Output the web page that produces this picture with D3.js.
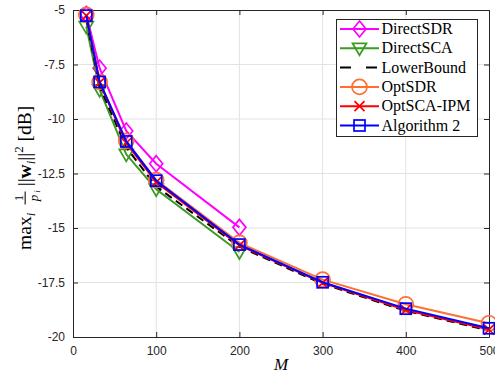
<!DOCTYPE html>
<html>
<head>
<meta charset="utf-8">
<script src="https://d3js.org/d3.v7.min.js"></script>
<style>
  body { margin: 0; background: #fff; }
  .tick text { font-family: "Liberation Sans", Arial, sans-serif; font-size: 12px; fill: #262626; }
  .serif { font-family: "Liberation Serif", "DejaVu Serif", serif; }
</style>
</head>
<body>
<svg id="chart"></svg>
<script>
// data
var M = [16, 32, 64, 100, 200, 300, 400, 500];
var directSDR   = [-5.2, -7.67, -10.55, -12.05, -14.97];
var directSCA   = [-5.76, -8.66, -11.62, -13.22, -16.1];
var lowerBound  = [-5.45, -8.5, -11.3, -13.1, -15.86, -17.56, -18.8, -19.7];
var optSDR      = [-5.22, -8.3, -11.0, -12.8, -15.68, -17.37, -18.5, -19.37];
var optSCAIPM   = [-5.26, -8.33, -11.1, -12.9, -15.8, -17.52, -18.76, -19.66];
var algorithm2  = [-5.26, -8.3, -11.03, -12.83, -15.76, -17.49, -18.7, -19.6];
var xTicks = [0, 100, 200, 300, 400, 500];
var yTicks = [-5, -7.5, -10, -12.5, -15, -17.5, -20];

var w = 495, h = 375;
var margin = {top: 10, right: 6, bottom: 38, left: 73};
var width = w - margin.left - margin.right,
    height = h - margin.top - margin.bottom;

var svg = d3.select("#chart").attr("width", w).attr("height", h);
var g = svg.append("g").attr("transform", "translate(" + margin.left + "," + margin.top + ")");

var x = d3.scaleLinear().domain([0, 500]).range([0, width]);
var y = d3.scaleLinear().domain([-20, -5]).range([height, 0]);

// grid
g.append("g").selectAll("line").data(xTicks.slice(1, -1)).enter().append("line")
  .attr("x1", d => x(d)).attr("x2", d => x(d)).attr("y1", 0).attr("y2", height)
  .attr("stroke", "#e3e3e3").attr("stroke-width", 1);
g.append("g").selectAll("line").data(yTicks.slice(1, -1)).enter().append("line")
  .attr("y1", d => y(d)).attr("y2", d => y(d)).attr("x1", 0).attr("x2", width)
  .attr("stroke", "#e3e3e3").attr("stroke-width", 1);

// axes
var fmt = function(d) { return String(d); };
g.append("g").attr("transform", "translate(0," + height + ")")
  .call(d3.axisBottom(x).tickValues(xTicks).tickFormat(fmt).tickSizeInner(-5).tickSizeOuter(0).tickPadding(9))
  .call(a => a.select(".domain").attr("stroke", "#262626"))
  .call(a => a.selectAll(".tick line").attr("stroke", "#262626"));
g.append("g")
  .call(d3.axisLeft(y).tickValues(yTicks).tickFormat(fmt).tickSizeInner(-5).tickSizeOuter(0).tickPadding(8))
  .call(a => a.select(".domain").attr("stroke", "#262626"))
  .call(a => a.selectAll(".tick line").attr("stroke", "#262626"));
g.append("g")
  .call(d3.axisTop(x).tickValues(xTicks).tickFormat("").tickSizeInner(-5).tickSizeOuter(0))
  .call(a => a.selectAll("path, line").attr("stroke", "#262626"));
g.append("g").attr("transform", "translate(" + width + ",0)")
  .call(d3.axisRight(y).tickValues(yTicks).tickFormat("").tickSizeInner(-5).tickSizeOuter(0))
  .call(a => a.selectAll("path, line").attr("stroke", "#262626"));

var series = [
  {name: "DirectSDR", vals: directSDR, color: "#ff00ff", marker: "diamond"},
  {name: "DirectSCA", vals: directSCA, color: "#3a9a22", marker: "tri"},
  {name: "LowerBound", vals: lowerBound, color: "#000000", marker: "none", dash: "8,5"},
  {name: "OptSDR", vals: optSDR, color: "#ff6f33", marker: "circle"},
  {name: "OptSCA-IPM", vals: optSCAIPM, color: "#ff0000", marker: "x"},
  {name: "Algorithm 2", vals: algorithm2, color: "#0000ff", marker: "square"}
];

var line = d3.line().x(d => x(d[0])).y(d => y(d[1]));

function drawMarker(sel, type, color, cx, cy) {
  var m = sel.append("g").attr("transform", "translate(" + cx + "," + cy + ")")
    .attr("fill", "none").attr("stroke", color).attr("stroke-width", 1.7);
  if (type === "diamond") m.append("path").attr("d", "M0,-8L6.5,0L0,8L-6.5,0Z");
  else if (type === "tri") m.append("path").attr("d", "M-7,-5L7,-5L0,7Z");
  else if (type === "circle") m.append("circle").attr("r", 7.5);
  else if (type === "x") m.append("path").attr("d", "M-5,-5L5,5M-5,5L5,-5");
  else if (type === "square") m.append("rect").attr("x", -5.5).attr("y", -5.5).attr("width", 11).attr("height", 11);
}

series.forEach(function(s) {
  var pts = s.vals.map((v, i) => [M[i], v]);
  g.append("path").datum(pts).attr("d", line).attr("fill", "none")
    .attr("stroke", s.color).attr("stroke-width", 2)
    .attr("stroke-dasharray", s.dash || null);
  if (s.marker !== "none") pts.forEach(p => drawMarker(g, s.marker, s.color, x(p[0]), y(p[1])));
});

// legend
var lg = svg.append("g");
lg.append("rect").attr("x", 336.5).attr("y", 19.5).attr("width", 141).attr("height", 117)
  .attr("fill", "#fff").attr("stroke", "#262626").attr("stroke-width", 1);
series.forEach(function(s, i) {
  var ly = 29 + i * 19.3;
  lg.append("line").attr("x1", 340).attr("x2", 379).attr("y1", ly).attr("y2", ly)
    .attr("stroke", s.color).attr("stroke-width", 2)
    .attr("stroke-dasharray", s.dash ? "11,15" : null);
  if (s.marker !== "none") drawMarker(lg, s.marker, s.color, 359.5, ly);
  lg.append("text").attr("class", "serif").attr("x", 381.5).attr("y", ly + 5)
    .attr("font-size", 16).attr("fill", "#000").text(s.name);
});

// x label
svg.append("text").attr("class", "serif").attr("x", 281).attr("y", 370)
  .attr("text-anchor", "middle").attr("font-size", 17).attr("font-style", "italic").text("M");

// y label
var yl = svg.append("g").attr("transform", "translate(31,155) rotate(-90) scale(1.3)").attr("class", "serif").attr("fill", "#000");
var t = yl.append("text").attr("x", -73).attr("y", 0).attr("font-size", 15);
t.append("tspan").text("max");
t.append("tspan").attr("font-size", 10).attr("font-style", "italic").attr("dy", 3).text("i");
// fraction
yl.append("text").attr("x", -33).attr("y", -6).attr("font-size", 10).attr("text-anchor", "middle").text("1");
yl.append("line").attr("x1", -38).attr("x2", -28).attr("y1", -4.5).attr("y2", -4.5).attr("stroke", "#000").attr("stroke-width", 0.8);
yl.append("text").attr("x", -33).attr("y", 5).attr("font-size", 10).attr("font-style", "italic").attr("text-anchor", "middle").text("p");
yl.append("text").attr("x", -29).attr("y", 7).attr("font-size", 7).attr("font-style", "italic").text("i");
var t2 = yl.append("text").attr("x", -24).attr("y", 0).attr("font-size", 15);
t2.append("tspan").text("||");
t2.append("tspan").attr("font-weight", "bold").text("w");
t2.append("tspan").attr("font-size", 10).attr("font-style", "italic").attr("dy", 3).text("i");
t2.append("tspan").attr("dy", -3).text("||");
t2.append("tspan").attr("font-size", 10).attr("dy", -6).text("2");
t2.append("tspan").attr("dy", 6).text(" [dB]");
</script>
</body>
</html>
